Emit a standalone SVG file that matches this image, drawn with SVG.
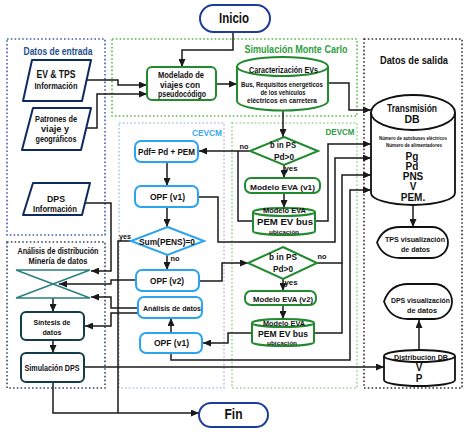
<svg xmlns="http://www.w3.org/2000/svg" width="468" height="432" viewBox="0 0 468 432">
<style>
text{font-family:"Liberation Sans",Arial,sans-serif;font-weight:bold;fill:#111;text-anchor:middle}
.box{fill:none;stroke-width:1.6;stroke-dasharray:1.6 2.2}
.c{fill:none;stroke:#1a1a1a;stroke-width:1.5;stroke-linejoin:miter}
.a{marker-end:url(#ah)}
.green{fill:#fff;stroke:#218a2e;stroke-width:2}
.blue{fill:#fff;stroke:#2ba4ef;stroke-width:2}
.navy{fill:#fff;stroke:#0f2a5e;stroke-width:2;stroke-linejoin:round}
.blk{fill:#fff;stroke:#111;stroke-width:1.8}
.teal{fill:#fff;stroke:#143c48;stroke-width:2}
.term{fill:#fff;stroke:#1f3c99;stroke-width:2}
</style>
<defs>
<marker id="ah" markerWidth="8" markerHeight="7" refX="8" refY="3.5" orient="auto" markerUnits="userSpaceOnUse">
<path d="M0,0 L8,3.5 L0,7 Z" fill="#1a1a1a"/>
</marker>
</defs>
<rect width="468" height="432" fill="#fff"/>

<g id="containers">
<rect class="box" x="7" y="39" width="98" height="196" stroke="#3f5fa8" stroke-width="2"/>
<text x="58" y="55" font-size="10.5" textLength="69" lengthAdjust="spacingAndGlyphs" style="fill:#1f4e8c">Datos de entrada</text>
<rect class="box" x="7" y="242" width="98" height="146" stroke="#3a4a60"/>
<text x="58" y="254" font-size="8.5" textLength="81" lengthAdjust="spacingAndGlyphs">Análisis de distribución</text>
<text x="58" y="264" font-size="8.5" textLength="59" lengthAdjust="spacingAndGlyphs">Minería de datos</text>
<rect class="box" x="112" y="39" width="245" height="77" stroke="#5cb84a"/>
<text x="296" y="53" font-size="11" textLength="103" lengthAdjust="spacingAndGlyphs" style="fill:#2e9e3e">Simulación Monte Carlo</text>
<rect class="box" x="364" y="39" width="98" height="349" stroke="#333"/>
<text x="414" y="64" font-size="11.5" textLength="68" lengthAdjust="spacingAndGlyphs">Datos de salida</text>
<rect class="box" x="119" y="123" width="105" height="265" stroke="#b4c6d8"/>
<text x="207" y="136" font-size="9.5" textLength="30" lengthAdjust="spacingAndGlyphs" style="fill:#3aa8f0">CEVCM</text>
<rect class="box" x="232" y="123" width="125" height="265" stroke="#9fd492"/>
<text x="340" y="135" font-size="9.5" textLength="29" lengthAdjust="spacingAndGlyphs" style="fill:#2e9e3e">DEVCM</text>
</g>

<g id="connectors">
<polyline class="c a" points="233,32 233,50 182,50 182,67"/>
<polyline class="c a" points="83,80 118,80 118,85 147,85"/>
<polyline class="c a" points="86,128 97,128 97,94 147,94"/>
<polyline class="c a" points="216,84 237,84"/>
<polyline class="c a" points="283,110 283,137"/>
<polyline class="c a" points="250,151 199,151"/>
<polyline class="c" points="253,221 238,221 238,151"/>
<polyline class="c a" points="284,165 284,178"/>
<polyline class="c a" points="284,193 284,208"/>
<polyline class="c a" points="167,162 167,186"/>
<polyline class="c a" points="167,207 167,227"/>
<polyline class="c a" points="167,255 167,270"/>
<polyline class="c a" points="199,281 222,281 222,263 248,263"/>
<polyline class="c a" points="283,279 283,291"/>
<polyline class="c a" points="283,305 283,319"/>
<polyline class="c a" points="252,333 228,333 228,343 203,343"/>
<polyline class="c a" points="171,333 171,318"/>
<polyline class="c a" points="328,83 349,83 349,110 371,110"/>
<polyline class="c a" points="315,221 328,221 328,144 371,144"/>
<polyline class="c a" points="198,197 218,197 218,242 335,242 335,158 371,158"/>
<polyline class="c a" points="317,263 342,263 342,175 371,175"/>
<polyline class="c" points="314,333 342,333 342,263"/>
<polyline class="c a" points="171,353 171,360 350,360 350,190 371,190"/>
<polyline class="c a" points="413,205 413,227"/>
<polyline class="c a" points="419,350 419,320"/>
<polyline class="c a" points="84,367 384,367"/>
<polyline class="c a" points="53,382 53,413 199,413"/>
<polyline class="c" points="131,241 118,241 118,413"/>
<polyline class="c a" points="81,203 111,203 111,271 91,271"/>
<polyline class="c a" points="136,280 111,280 111,284 59,284"/>
<polyline class="c a" points="138,308 111,308 111,297 91,297"/>
<polyline class="c a" points="138,313 111,313 111,326 85,326"/>
<polyline class="c a" points="53,298 53,312"/>
<polyline class="c a" points="53,340 53,353"/>
<text x="244" y="149" font-size="8" textLength="9" lengthAdjust="spacingAndGlyphs">no</text>
<text x="291" y="171" font-size="8" textLength="13" lengthAdjust="spacingAndGlyphs">yes</text>
<text x="125" y="239" font-size="8" textLength="12" lengthAdjust="spacingAndGlyphs">yes</text>
<text x="175" y="261" font-size="8" textLength="9" lengthAdjust="spacingAndGlyphs">no</text>
<text x="322" y="259" font-size="8" textLength="9" lengthAdjust="spacingAndGlyphs">no</text>
<text x="291" y="285" font-size="8" textLength="13" lengthAdjust="spacingAndGlyphs">yes</text>
</g>

<g id="inicio">
<rect class="term" x="200" y="5" width="70" height="27" rx="13.5"/>
<text x="234" y="23" font-size="14" textLength="30" lengthAdjust="spacingAndGlyphs">Inicio</text>
</g>

<g id="ev-tps">
<path class="navy" d="M32,60 L91,60 L82,101 L23,101 Z"/>
<text x="56" y="78" font-size="10" textLength="39" lengthAdjust="spacingAndGlyphs">EV &amp; TPS</text>
<text x="56" y="89" font-size="8.5" textLength="43" lengthAdjust="spacingAndGlyphs">Información</text>
</g>

<g id="patrones">
<path class="navy" d="M33,108 L91,108 L81,150 L22,150 Z"/>
<text x="56" y="122" font-size="8.5" textLength="42" lengthAdjust="spacingAndGlyphs">Patrones de</text>
<text x="55" y="132" font-size="8.5" textLength="28" lengthAdjust="spacingAndGlyphs">viaje y</text>
<text x="56" y="142" font-size="8.5" textLength="41" lengthAdjust="spacingAndGlyphs">geográficos</text>
</g>

<g id="dps-info">
<path class="navy" d="M33,183 L90,183 L82,215 L23,215 Z"/>
<text x="56" y="202" font-size="9.5" textLength="18" lengthAdjust="spacingAndGlyphs">DPS</text>
<text x="55" y="212" font-size="8.5" textLength="44" lengthAdjust="spacingAndGlyphs">Información</text>
</g>

<g id="collate">
<polygon points="16,270 90,270 16,298 90,298" fill="none" stroke="#2a7f7f" stroke-width="1.5"/>
</g>

<g id="sintesis">
<rect class="teal" x="21" y="312" width="63" height="28" rx="5"/>
<text x="52" y="325" font-size="8" textLength="37" lengthAdjust="spacingAndGlyphs">Síntesis de</text>
<text x="52" y="335" font-size="8" textLength="19" lengthAdjust="spacingAndGlyphs">datos</text>
</g>

<g id="simulacion-dps">
<rect class="teal" x="21" y="353" width="63" height="29" rx="5"/>
<text x="52" y="371" font-size="8.5" textLength="55" lengthAdjust="spacingAndGlyphs">Simulación DPS</text>
</g>

<g id="modelado">
<rect class="green" x="147" y="67" width="69" height="33" rx="5"/>
<text x="181" y="78" font-size="8.5" textLength="46" lengthAdjust="spacingAndGlyphs">Modelado de</text>
<text x="180" y="88" font-size="8.5" textLength="40" lengthAdjust="spacingAndGlyphs">viajes con</text>
<text x="182" y="97" font-size="8.5" textLength="48" lengthAdjust="spacingAndGlyphs">pseudocódigo</text>
</g>

<g id="caracterizacion">
<path class="green" d="M237,66.5 A45.5,9.5 0 0 1 328,66.5 L328,101 A45.5,9.5 0 0 1 237,101 Z"/>
<path d="M237,66.5 A45.5,9.5 0 0 0 328,66.5" fill="none" stroke="#218a2e" stroke-width="2"/>
<text x="283.5" y="73" font-size="8.5" textLength="69" lengthAdjust="spacingAndGlyphs">Caracterización EVs</text>
<text x="282" y="87" font-size="6.5" textLength="82" lengthAdjust="spacingAndGlyphs">Bus, Requisitos energéticos</text>
<text x="283" y="95" font-size="6.5" textLength="45" lengthAdjust="spacingAndGlyphs">de los vehículos</text>
<text x="282" y="103" font-size="6.5" textLength="70" lengthAdjust="spacingAndGlyphs">eléctricos en carretera</text>
</g>

<g id="decision-1">
<polygon class="green" points="284,137 318,151 284,165 250,151"/>
<text x="283" y="148" font-size="8.5" textLength="26" lengthAdjust="spacingAndGlyphs">b in PS</text>
<text x="284" y="160" font-size="8.5" textLength="20" lengthAdjust="spacingAndGlyphs">Pd&gt;0</text>
</g>

<g id="modelo-eva-v1">
<rect class="green" x="245" y="178" width="75" height="15" rx="6"/>
<text x="282.5" y="189.5" font-size="8" textLength="65" lengthAdjust="spacingAndGlyphs">Modelo EVA  (v1)</text>
</g>

<g id="cyl-eva-1">
<path class="green" d="M253,212 A31,4 0 0 1 315,212 L315,231 A31,4 0 0 1 253,231 Z"/>
<path d="M253,212 A31,4 0 0 0 315,212" fill="none" stroke="#218a2e" stroke-width="2"/>
<text x="284.5" y="213" font-size="7.5" textLength="43" lengthAdjust="spacingAndGlyphs">Modelo EVA</text>
<text x="285" y="225" font-size="8.5" textLength="56" lengthAdjust="spacingAndGlyphs">PEM  EV bus</text>
<text x="284" y="233.5" font-size="6" textLength="30" lengthAdjust="spacingAndGlyphs">ubicación</text>
</g>

<g id="decision-2">
<polygon class="green" points="283,247 317,263 283,279 248,263"/>
<text x="283" y="260" font-size="8.5" textLength="28" lengthAdjust="spacingAndGlyphs">b in PS</text>
<text x="283" y="272" font-size="8.5" textLength="20" lengthAdjust="spacingAndGlyphs">Pd&gt;0</text>
</g>

<g id="modelo-eva-v2">
<rect class="green" x="245" y="291" width="71" height="14" rx="6"/>
<text x="283" y="302" font-size="8" textLength="60" lengthAdjust="spacingAndGlyphs">Modelo EVA  (v2)</text>
</g>

<g id="cyl-eva-2">
<path class="green" d="M252,323 A31,4 0 0 1 314,323 L314,342 A31,4 0 0 1 252,342 Z"/>
<path d="M252,323 A31,4 0 0 0 314,323" fill="none" stroke="#218a2e" stroke-width="2"/>
<text x="284" y="326" font-size="7.5" textLength="42" lengthAdjust="spacingAndGlyphs">Modelo EVA</text>
<text x="283" y="337" font-size="8.5" textLength="50" lengthAdjust="spacingAndGlyphs">PEM  EV bus</text>
<text x="282" y="344.5" font-size="6" textLength="30" lengthAdjust="spacingAndGlyphs">ubicación</text>
</g>

<g id="pdf">
<rect class="blue" x="135" y="141" width="63" height="21" rx="6"/>
<text x="166.5" y="155" font-size="8.5" textLength="57" lengthAdjust="spacingAndGlyphs">Pdf= Pd + PEM</text>
</g>

<g id="opf-v1">
<rect class="blue" x="135" y="186" width="63" height="21" rx="6"/>
<text x="167.5" y="200" font-size="9" textLength="35" lengthAdjust="spacingAndGlyphs">OPF (v1)</text>
</g>

<g id="sum-pens">
<polygon class="blue" points="167.5,227 204,241 167.5,255 131,241"/>
<text x="167" y="245" font-size="8.5" textLength="56" lengthAdjust="spacingAndGlyphs">Sum(PENS)=0</text>
</g>

<g id="opf-v2">
<rect class="blue" x="136" y="270" width="63" height="21" rx="6"/>
<text x="167" y="284" font-size="9" textLength="34" lengthAdjust="spacingAndGlyphs">OPF (v2)</text>
</g>

<g id="analisis">
<rect class="blue" x="138" y="297" width="64" height="21" rx="6"/>
<text x="172" y="311" font-size="7.5" textLength="58" lengthAdjust="spacingAndGlyphs">Análisis de datos</text>
</g>

<g id="opf-v1-b">
<rect class="blue" x="140" y="333" width="62" height="20" rx="6"/>
<text x="171.5" y="346" font-size="9" textLength="35" lengthAdjust="spacingAndGlyphs">OPF (v1)</text>
</g>

<g id="transmision-db">
<path class="blk" d="M371,112.5 A42,17.5 0 0 1 455,112.5 L455,193 A42,12 0 0 1 371,193 Z"/>
<path d="M371,112.5 A42,17.5 0 0 0 455,112.5" fill="none" stroke="#111" stroke-width="1.8"/>
<text x="412" y="112" font-size="10.5" textLength="50" lengthAdjust="spacingAndGlyphs">Transmisión</text>
<text x="412" y="123" font-size="10.5">DB</text>
<text x="413" y="140" font-size="5.5" textLength="68" lengthAdjust="spacingAndGlyphs">Número de autobuses eléctricos</text>
<text x="414" y="147" font-size="5.5" textLength="56" lengthAdjust="spacingAndGlyphs">Número de alimentadores</text>
<text x="412" y="160" font-size="10">Pg</text>
<text x="412" y="170" font-size="10">Pd</text>
<text x="413" y="180" font-size="10">PNS</text>
<text x="413" y="190" font-size="10">V</text>
<text x="413" y="201" font-size="10">PEM.</text>
</g>

<g id="tps-vis">
<path class="blk" d="M377,242.5 C381,232 389,227 400,227 L432,227 A16,15.5 0 0 1 432,258 L400,258 C389,258 381,253 377,242.5 Z"/>
<text x="415" y="242" font-size="8" textLength="60" lengthAdjust="spacingAndGlyphs">TPS visualización</text>
<text x="415.5" y="252" font-size="8" textLength="29" lengthAdjust="spacingAndGlyphs">de datos</text>
</g>

<g id="dps-vis">
<path class="blk" d="M384,301.5 C388,290 396,284 408,284 L434,284 A18,17.5 0 0 1 434,319 L408,319 C396,319 388,313 384,301.5 Z"/>
<text x="420.5" y="303" font-size="8" textLength="59" lengthAdjust="spacingAndGlyphs">DPS visualización</text>
<text x="422" y="313" font-size="8" textLength="30" lengthAdjust="spacingAndGlyphs">de datos</text>
</g>

<g id="distribucion-db">
<path class="blk" d="M384,356 A35.5,6 0 0 1 455,356 L455,380 A35.5,6 0 0 1 384,380 Z"/>
<path d="M384,356 A35.5,6 0 0 0 455,356" fill="none" stroke="#111" stroke-width="1.8"/>
<text x="421" y="360" font-size="8" textLength="54" lengthAdjust="spacingAndGlyphs">Distribución DB</text>
<text x="419" y="371" font-size="10">V</text>
<text x="419" y="382" font-size="10">P</text>
</g>

<g id="fin">
<rect class="term" x="199" y="403" width="69" height="24" rx="12"/>
<text x="233.5" y="419" font-size="14" textLength="18" lengthAdjust="spacingAndGlyphs">Fin</text>
</g>
</svg>
